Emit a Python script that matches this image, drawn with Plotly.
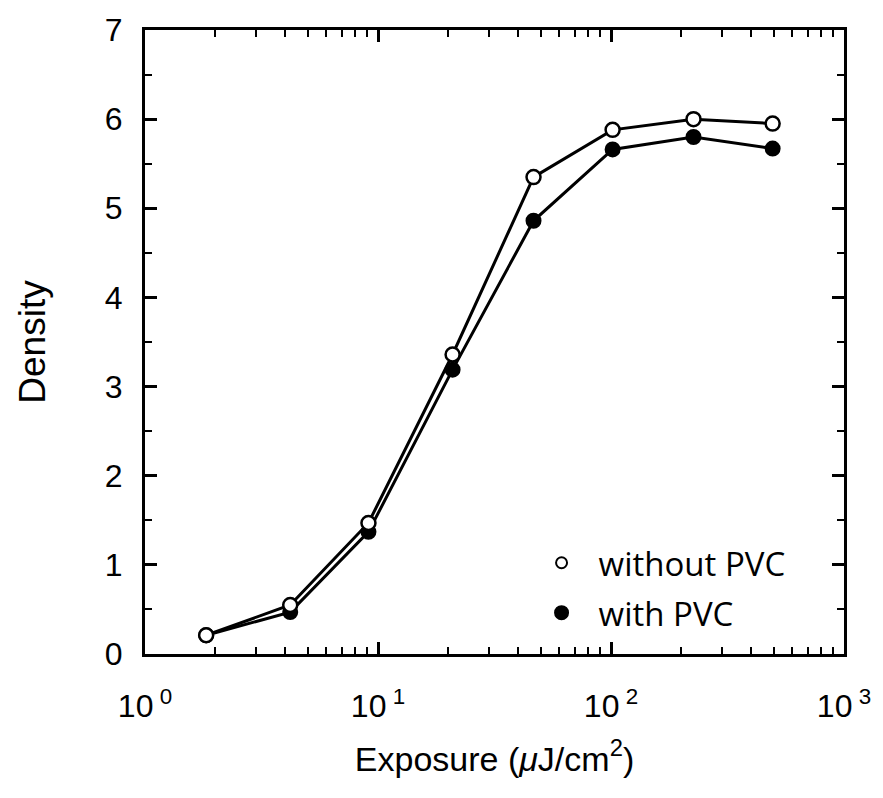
import plotly.graph_objects as go

exposure = [1.83, 4.2, 9.1, 20.9, 46.5, 101.6, 226, 494]
density_without = [0.21, 0.55, 1.47, 3.36, 5.35, 5.88, 6.00, 5.95]
density_with = [0.21, 0.47, 1.37, 3.19, 4.86, 5.66, 5.80, 5.67]
xtick_vals = [1, 10, 100, 1000]
xtick_text = ["10<sup> 0</sup>", "10<sup> 1</sup>", "10<sup> 2</sup>", "10<sup> 3</sup>"]
ytick_vals = [0, 1, 2, 3, 4, 5, 6, 7]

FONT = "Liberation Sans, Arial, sans-serif"

fig = go.Figure()
fig.add_trace(go.Scatter(
    x=exposure, y=density_with, mode="lines+markers", showlegend=False,
    line=dict(color="black", width=3),
    marker=dict(symbol="circle", size=14, color="black", line=dict(color="black", width=2)),
))
fig.add_trace(go.Scatter(
    x=exposure, y=density_without, mode="lines+markers", showlegend=False,
    line=dict(color="black", width=3),
    marker=dict(symbol="circle", size=14, color="white", line=dict(color="black", width=2.5)),
))
fig.add_trace(go.Scatter(
    x=[None], y=[None], mode="markers", name="without PVC", legendgroup="a",
    marker=dict(symbol="circle", size=11, color="white", line=dict(color="black", width=2)),
))
fig.add_trace(go.Scatter(
    x=[None], y=[None], mode="markers", name="with PVC", legendgroup="b",
    marker=dict(symbol="circle", size=13, color="black", line=dict(color="black", width=2)),
))

axis_common = dict(
    showline=True, linecolor="black", linewidth=3, mirror="ticks",
    ticks="inside", tickcolor="black", tickwidth=2.5, ticklen=12,
    showgrid=False, zeroline=False,
    tickfont=dict(family=FONT, size=32, color="black"),
)

fig.update_xaxes(
    type="log", range=[0, 3], tickvals=xtick_vals, ticktext=xtick_text,
    title=dict(text="Exposure (<i>μ</i>J/cm<sup>2</sup>)",
               font=dict(family=FONT, size=34, color="black"),
               standoff=24),
    ticklabelstandoff=22,
    minor=dict(ticks="inside", dtick="D1", ticklen=7, tickwidth=2, tickcolor="black", showgrid=False),
    **axis_common,
)
fig.update_yaxes(
    range=[0, 7], tickvals=ytick_vals,
    title=dict(text="Density",
               font=dict(family=FONT, size=37, color="black"),
               standoff=48),
    ticklabelstandoff=13,
    minor=dict(ticks="inside", dtick=0.5, ticklen=7, tickwidth=2, tickcolor="black", showgrid=False),
    **axis_common,
)

fig.update_layout(
    width=883, height=798,
    margin=dict(l=145, r=31, t=22, b=144),
    paper_bgcolor="white", plot_bgcolor="white",
    legend=dict(
        x=0.543, y=0.191, xanchor="left", yanchor="top",
        font=dict(family="Open Sans, sans-serif", size=33, color="black"),
        bgcolor="rgba(0,0,0,0)", traceorder="grouped", tracegroupgap=4,
        itemwidth=64,
    ),
)

fig.write_html("out.html")
